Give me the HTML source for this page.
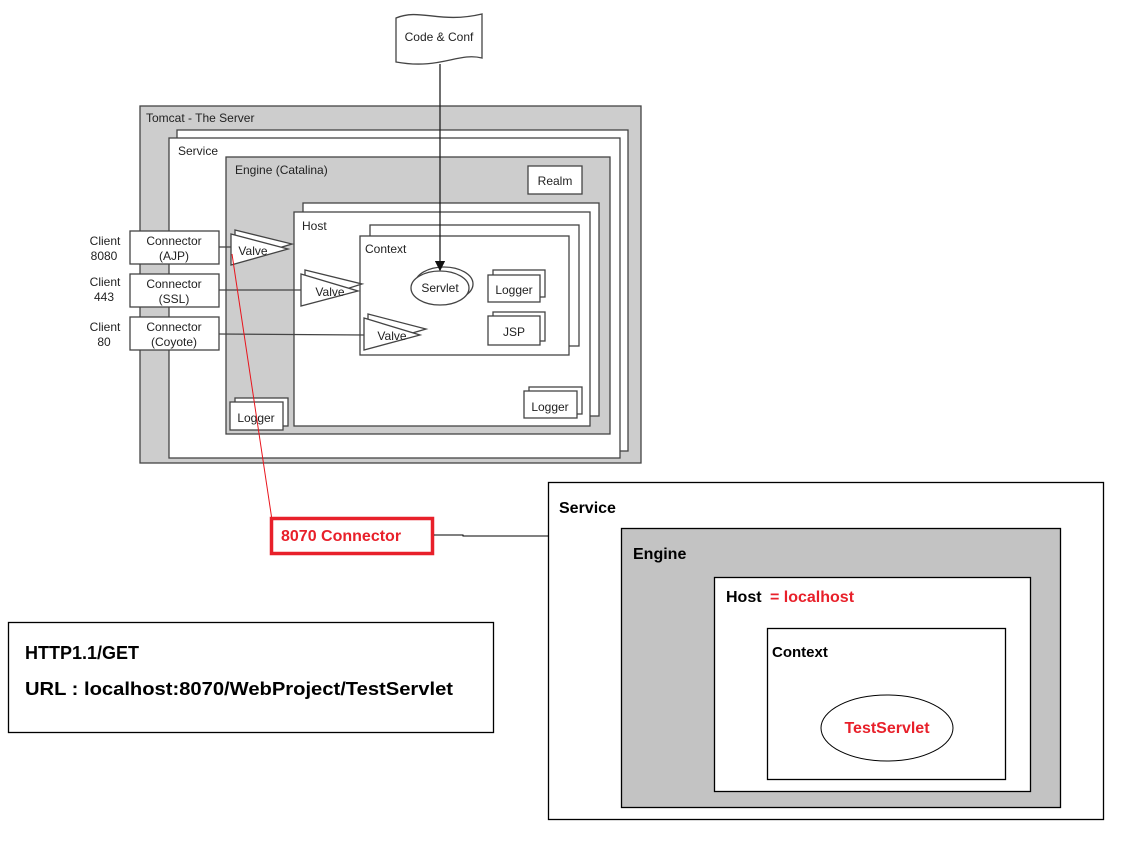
<!DOCTYPE html>
<html><head><meta charset="utf-8"><style>
html,body{margin:0;padding:0;background:#fff;}
svg{display:block;}
.h{font-family:"Liberation Sans",Arial,sans-serif;font-size:12px;fill:#222;}
.b{font-family:"Liberation Sans",Arial,sans-serif;font-weight:bold;}
</style></head><body>
<svg width="1144" height="851" viewBox="0 0 1144 851" xmlns="http://www.w3.org/2000/svg">
<defs><marker id="ar" markerWidth="8" markerHeight="8" refX="7" refY="4" orient="auto"><path d="M0,0 L8,4 L0,8 z" fill="#111"/></marker></defs>
<g stroke="#444" stroke-width="1.3">
<!-- Tomcat -->
<rect x="140" y="106" width="501" height="357" fill="#cdcdcd"/>
<rect x="177" y="130" width="451" height="321" fill="#fff"/>
<rect x="169" y="138" width="451" height="320" fill="#fff"/>
<rect x="226" y="157" width="384" height="277" fill="#cdcdcd"/>
<rect x="528" y="166" width="54" height="28" fill="#fff"/>
<rect x="303" y="203" width="296" height="213" fill="#fff"/>
<rect x="294" y="212" width="296" height="214" fill="#fff"/>
<rect x="370" y="225" width="209" height="121" fill="#fff"/>
<rect x="360" y="236" width="209" height="119" fill="#fff"/>
<!-- loggers -->
<rect x="493" y="270" width="52" height="27" fill="#fff"/>
<rect x="488" y="275" width="52" height="27" fill="#fff"/>
<rect x="493" y="312" width="52" height="29" fill="#fff"/>
<rect x="488" y="316" width="52" height="29" fill="#fff"/>
<rect x="529" y="387" width="53" height="27" fill="#fff"/>
<rect x="524" y="391" width="53" height="27" fill="#fff"/>
<rect x="235" y="398" width="53" height="28" fill="#fff"/>
<rect x="230" y="402" width="53" height="28" fill="#fff"/>
<!-- servlet -->
<ellipse cx="444" cy="284" rx="29" ry="17" fill="#fff"/>
<ellipse cx="440" cy="288" rx="29" ry="17" fill="#fff"/>
<!-- connectors -->
<rect x="130" y="231" width="89" height="33" fill="#fff"/>
<rect x="130" y="274" width="89" height="33" fill="#fff"/>
<rect x="130" y="317" width="89" height="33" fill="#fff"/>
<line x1="219" y1="247" x2="232" y2="247"/>
<line x1="219" y1="290" x2="301" y2="290"/>
<line x1="219" y1="334" x2="364" y2="335"/>
<!-- valves -->
<polygon points="235,230 292,244 235,261" fill="#fff"/>
<polygon points="231,234 288,249 231,265" fill="#fff"/>
<polygon points="305,270 362,284 305,302" fill="#fff"/>
<polygon points="301,274 358,291 301,306" fill="#fff"/>
<polygon points="368,314 426,329 368,346" fill="#fff"/>
<polygon points="364,318 420,335 364,350" fill="#fff"/>
<!-- code & conf -->
<path d="M396,18 C420,8 440,24 482,14 L482,58 C458,52 440,70 396,62 Z" fill="#fff"/>
<line x1="440" y1="64" x2="440" y2="270" stroke="#222" marker-end="url(#ar)"/>
</g>
<g class="h">
<text x="146" y="122">Tomcat - The Server</text>
<text x="178" y="155">Service</text>
<text x="235" y="174">Engine (Catalina)</text>
<text x="555" y="185" text-anchor="middle">Realm</text>
<text x="302" y="230">Host</text>
<text x="365" y="253">Context</text>
<text x="440" y="292" text-anchor="middle">Servlet</text>
<text x="514" y="294" text-anchor="middle">Logger</text>
<text x="514" y="336" text-anchor="middle">JSP</text>
<text x="550" y="411" text-anchor="middle">Logger</text>
<text x="256" y="422" text-anchor="middle">Logger</text>
<text x="253" y="255" text-anchor="middle">Valve</text>
<text x="330" y="296" text-anchor="middle">Valve</text>
<text x="392" y="340" text-anchor="middle">Valve</text>
<text x="174" y="245" text-anchor="middle">Connector</text><text x="174" y="260" text-anchor="middle">(AJP)</text>
<text x="174" y="288" text-anchor="middle">Connector</text><text x="174" y="303" text-anchor="middle">(SSL)</text>
<text x="174" y="331" text-anchor="middle">Connector</text><text x="174" y="346" text-anchor="middle">(Coyote)</text>
<text x="105" y="245" text-anchor="middle">Client</text><text x="104" y="260" text-anchor="middle">8080</text>
<text x="105" y="286" text-anchor="middle">Client</text><text x="104" y="301" text-anchor="middle">443</text>
<text x="105" y="331" text-anchor="middle">Client</text><text x="104" y="346" text-anchor="middle">80</text>
<text x="439" y="41" text-anchor="middle">Code &amp; Conf</text>
</g>
<!-- red line -->
<line x1="232" y1="254" x2="272" y2="520" stroke="#e8141c" stroke-width="1"/>
<rect x="271.5" y="518.5" width="161" height="35" fill="#fff" stroke="#e8202a" stroke-width="3.5"/>
<text x="281" y="541" class="b" font-size="16" fill="#e8202a">8070 Connector</text>
<polyline points="434,535 463,535 463,536 553,536" fill="none" stroke="#000" stroke-width="1"/>
<!-- right diagram -->
<g stroke="#000" stroke-width="1.3">
<rect x="548.5" y="482.5" width="555" height="337" fill="#fff"/>
<rect x="621.5" y="528.5" width="439" height="279" fill="#c3c3c3"/>
<rect x="714.5" y="577.5" width="316" height="214" fill="#fff"/>
<rect x="767.5" y="628.5" width="238" height="151" fill="#fff"/>
<ellipse cx="887" cy="728" rx="66" ry="33" fill="#fff" stroke-width="1"/>
<rect x="8.5" y="622.5" width="485" height="110" fill="#fff"/>
</g>
<g class="b" font-size="16" fill="#000">
<text x="559" y="513">Service</text>
<text x="633" y="559">Engine</text>
<text x="726" y="602">Host <tspan fill="#e8202a" dx="4">= localhost</tspan></text>
<text x="772" y="657" font-size="15">Context</text>
<text x="887" y="733" text-anchor="middle" fill="#e8202a">TestServlet</text>
<text x="25" y="659" font-size="18">HTTP1.1/GET</text>
<text x="25" y="695" font-size="18" textLength="428" lengthAdjust="spacingAndGlyphs">URL : localhost:8070/WebProject/TestServlet</text>
</g>
</svg>
</body></html>
